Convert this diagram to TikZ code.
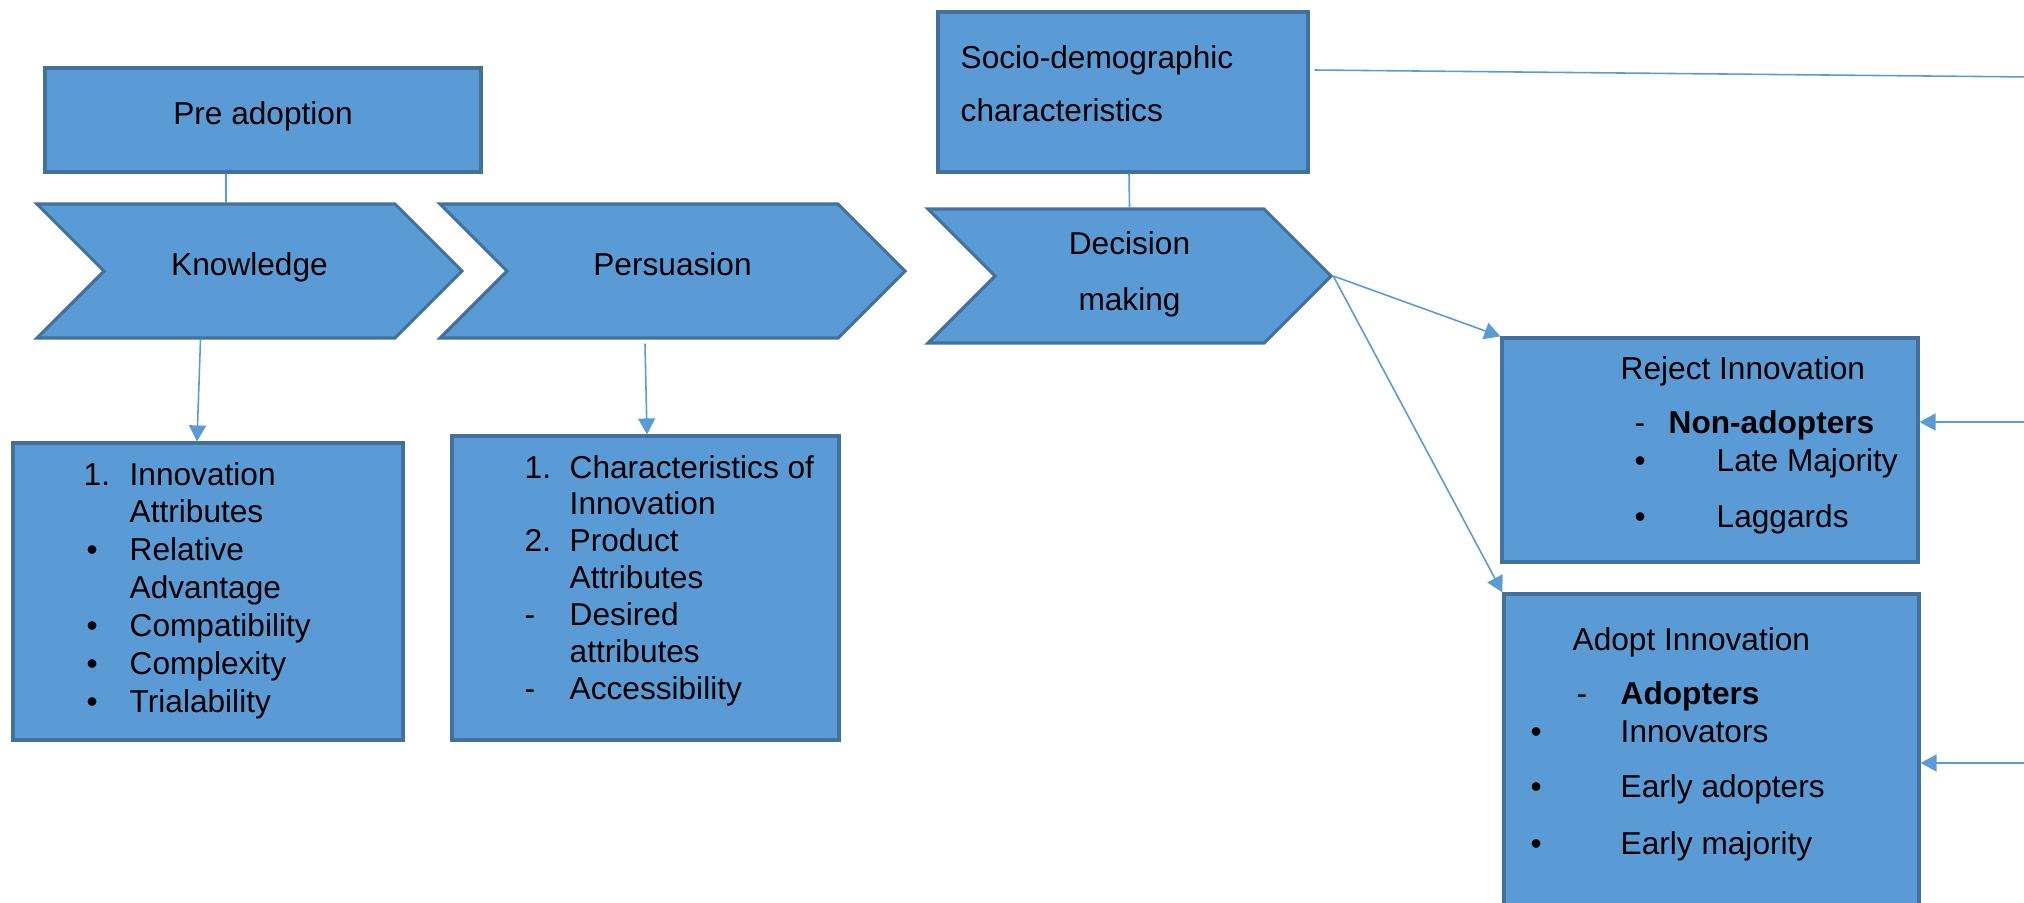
\documentclass[tikz,border=0pt]{standalone}
\usepackage{fontspec}
\setmainfont{Liberation Sans}
\usepackage{tikz}
\usetikzlibrary{arrows.meta,shapes.symbols}

\definecolor{boxfill}{HTML}{5B9BD5}
\definecolor{boxline}{HTML}{41719C}

\begin{document}
\begin{tikzpicture}[
            x = 0.1mm, y = -0.1mm, % one unit per pixel, y runs downwards
            font = \fontsize{9}{10.8}\selectfont,
            box/.style = {draw=boxline, fill=boxfill, line width=0.9pt, inner sep=0pt},
            chevron/.style = {box, shape=signal, signal from=west, signal to=east,
                              signal pointer angle=90, minimum height=13.4mm},
            txt/.style = {anchor=base west, inner sep=0pt},
            link/.style = {draw=boxfill, line width=0.45pt},
            > = {Triangle[length=1.6mm,width=1.7mm]} % arrow head style
        ]
    \useasboundingbox (0,0) rectangle (2024,902);

    % stages
    \node[box, minimum width=43.6mm, minimum height=10.4mm] (pre) at (263,120) {\raisebox{1.3mm}{Pre adoption}};
    \node[box, minimum width=37mm, minimum height=16mm] (socio) at (1123,92) {};
    \node[txt] (sociotxt) at (960,68) {%
        \begin{tabular}[t]{@{}l@{}}
        Socio-demographic\\[4.5pt]
        characteristics
        \end{tabular}};

    \node[chevron, minimum width=42.5mm] (know) at (249.5,271) {\raisebox{1.3mm}{Knowledge}};
    \node[chevron, minimum width=46.5mm] (pers) at (672.5,271) {\raisebox{1.3mm}{Persuasion}};
    \node[chevron, minimum width=40.3mm, align=center] (dec) at (1129.5,276) {Decision\\[5pt]making\\[-2.8mm]};

    % lists under the stages
    \node[box, minimum width=39mm, minimum height=29.7mm] (attr) at (208,591.5) {};
    \node[txt] (attrtxt) at (83,485) {%
        \begin{tabular}[t]{@{}p{4.6mm}@{}l@{}}
        1. & Innovation\\
           & Attributes\\
        \hspace{0.3mm}\textbullet & Relative\\
           & Advantage\\
        \hspace{0.3mm}\textbullet & Compatibility\\
        \hspace{0.3mm}\textbullet & Complexity\\
        \hspace{0.3mm}\textbullet & Trialability
        \end{tabular}};

    \node[box, minimum width=38.7mm, minimum height=30.4mm] (charac) at (645.5,588) {};
    \node[txt] (charactxt) at (524,478) {%
        \fontsize{9}{10.5}\selectfont
        \begin{tabular}[t]{@{}p{4.5mm}@{}l@{}}
        1. & Characteristics of\\
           & Innovation\\
        2. & Product\\
           & Attributes\\
        -  & Desired\\
           & attributes\\
        -  & Accessibility
        \end{tabular}};

    % outcomes
    \node[box, minimum width=41.6mm, minimum height=22.4mm] (reject) at (1710,450) {};
    \node[txt] (rejecttxt) at (1620,379) {%
        \begin{tabular}[t]{@{}l@{}}
        Reject Innovation\\[4.8pt]
        \hspace{1.4mm}\makebox[3.4mm][l]{-}\textbf{Non-adopters}\\
        \hspace{1.4mm}\makebox[8.2mm][l]{\textbullet}Late Majority\\[5.1pt]
        \hspace{1.4mm}\makebox[8.2mm][l]{\textbullet}Laggards
        \end{tabular}};

    \node[box, minimum width=41.5mm, minimum height=41.6mm] (adopt) at (1711.5,802) {};
    \node[txt] (adopttxt) at (1530,650) {%
        \begin{tabular}[t]{@{}l@{}}
        \hspace{4.2mm}Adopt Innovation\\[4.8pt]
        \hspace{4.6mm}\makebox[4.4mm][l]{-}\textbf{Adopters}\\
        \makebox[9mm][l]{\textbullet}Innovators\\[4.8pt]
        \makebox[9mm][l]{\textbullet}Early adopters\\[5.3pt]
        \makebox[9mm][l]{\textbullet}Early majority
        \end{tabular}};

    % loose ends running off to the right
    \coordinate (sociout) at (2030,77);
    \coordinate (rejectin) at (2030,422);
    \coordinate (adoptin) at (2030,763);

    \draw[link] ([xshift=-3.7mm]pre.south) -- ([xshift=-2.35mm]know.north);
    \draw[link] ([xshift=0.6mm]socio.south) -- (dec.north);
    \draw[link] ([xshift=0.5mm,yshift=2.2mm]socio.east) -- (sociout);

    \draw[link,->] ([xshift=-4.9mm]know.south) -- ([xshift=-1.1mm]attr.north);
    \draw[link,->] ([xshift=-2.75mm,yshift=-0.4mm]pers.south) -- ([xshift=0.15mm]charac.north);
    \draw[link,->] (dec.east) -- (reject.north west);
    \draw[link,->] (dec.east) -- (adopt.north west);
    \draw[link,->] (rejectin) -- (reject.east |- rejectin);
    \draw[link,->] (adoptin) -- (adopt.east |- adoptin);

\end{tikzpicture}
\end{document}
